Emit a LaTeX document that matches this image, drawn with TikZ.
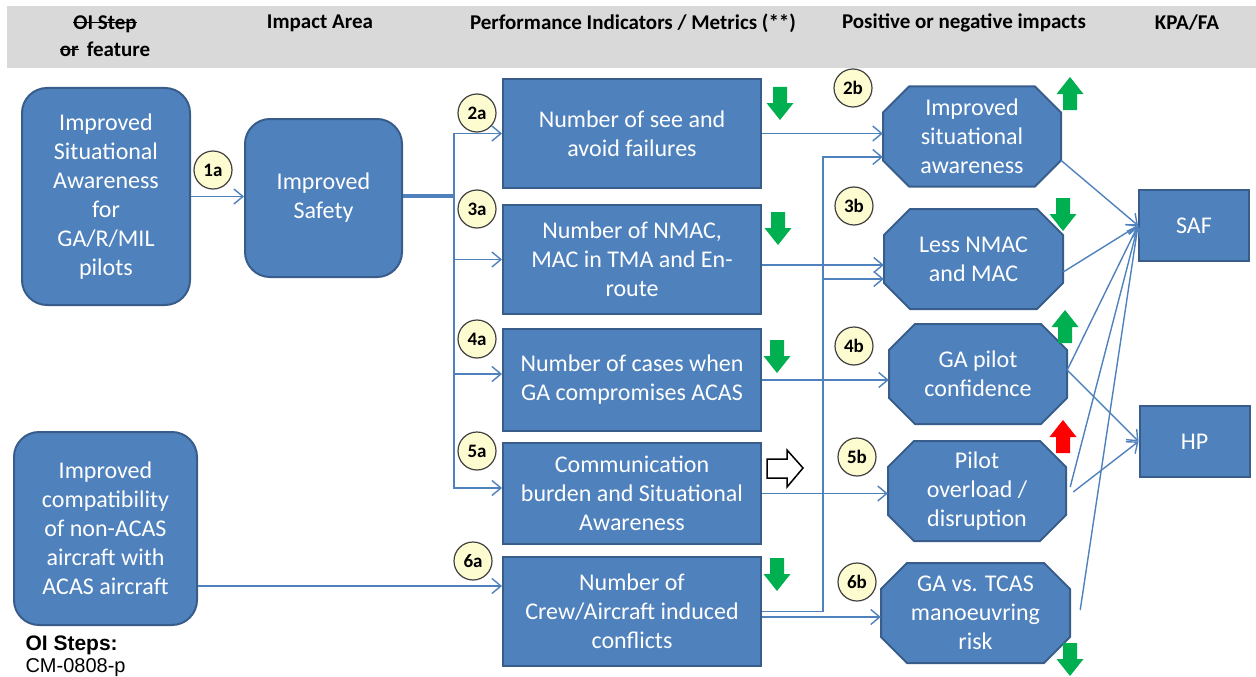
\documentclass[tikz,border=0pt]{standalone}
\usepackage{fontspec}
\setmainfont{Carlito}
\newfontfamily\arialfont{Liberation Sans}
\usetikzlibrary{arrows.meta}
\definecolor{boxblue}{HTML}{4F81BD}
\definecolor{boxedge}{HTML}{385D8A}
\definecolor{linkblue}{HTML}{4F81BD}
\definecolor{tagyellow}{HTML}{FDFBD0}
\definecolor{taggray}{HTML}{404040}
\definecolor{headgray}{HTML}{D9D9D9}
\definecolor{arrgreen}{HTML}{00B050}
\newcommand{\strk}[1]{\setbox0\hbox{#1}\rlap{\rule[0.3em]{\wd0}{1.2pt}}\box0}
\tikzset{feature/.style={rectangle, rounded corners=25pt, fill=boxblue, draw=boxedge, line width=2pt,
  text=white, align=center, font=\fontsize{24}{29}\selectfont}}
\tikzset{metric/.style={rectangle, fill=boxblue, draw=boxedge, line width=2pt, minimum width=258pt,
  text=white, align=center, font=\fontsize{24}{29}\selectfont}}
\tikzset{impact/.style={rectangle, inner sep=0pt, text=white, align=center, font=\fontsize{24}{29}\selectfont}}
\tikzset{octo/.style={fill=boxblue, draw=boxedge, line width=2pt, line join=round}}
\tikzset{kpa/.style={rectangle, fill=boxblue, draw=boxedge, line width=2pt, minimum width=110pt,
  minimum height=71pt, text=white, font=\fontsize{24}{28}\selectfont}}
\tikzset{numtag/.style={circle, fill=tagyellow, draw=taggray, line width=1.2pt, minimum size=38pt,
  inner sep=0pt, font=\bfseries\fontsize{19}{19}\selectfont}}
\tikzset{head/.style={align=center, font=\bfseries\fontsize{21}{27}\selectfont}}
\tikzset{link/.style={draw=linkblue, line width=1.4pt, ->}}
% octagon behind a named node: name, x, y, half width, text
\newcommand{\impactbox}[5]{%
  \draw[octo] (#2-#4+26,#3-50) -- (#2+#4-26,#3-50) -- (#2+#4,#3-24) -- (#2+#4,#3+24)
    -- (#2+#4-26,#3+50) -- (#2-#4+26,#3+50) -- (#2-#4,#3+24) -- (#2-#4,#3-24) -- cycle;
  \node[impact, minimum width=2*#4, minimum height=100pt] (#1) at (#2,#3) {#5};}
% block arrows: colour, x, top (down) or bottom (up)
\newcommand{\arrdown}[3]{\fill[#1] (#2-7,#3) -- (#2+7,#3) -- (#2+7,#3+16) -- (#2+13.5,#3+16)
  -- (#2,#3+33) -- (#2-13.5,#3+16) -- (#2-7,#3+16) -- cycle;}
\newcommand{\arrup}[3]{\fill[#1] (#2-7,#3) -- (#2+7,#3) -- (#2+7,#3-16) -- (#2+13.5,#3-16)
  -- (#2,#3-33) -- (#2-13.5,#3-16) -- (#2-7,#3-16) -- cycle;}
\begin{document}
\begin{tikzpicture}[x=1pt,y=-1pt,>={Straight Barb[length=9pt,width=15pt]}]
    \useasboundingbox (0,0) rectangle (1256,677);
    \fill[headgray] (7,6) rectangle (1256,68);
    \node[head] (h1) at (105,36) {\strk{OI Step}\\\strk{or}\ \,feature};
    \node[head] (h2) at (320,23) {Impact Area};
    \node[head] (h3) at (633,23) {Performance Indicators / Metrics (**)};
    \node[head] (h4) at (964,23) {Positive or negative impacts};
    \node[head] (h5) at (1187,23) {KPA/FA};

    % features and impact area
    \node[feature, minimum width=168pt, minimum height=217pt] (left1) at (106,196.5)
      {Improved\\Situational\\Awareness\\for\\GA/R/MIL\\pilots};
    \node[feature, minimum width=157pt, minimum height=158pt] (safety) at (323.5,198) {Improved\\Safety};
    \node[feature, minimum width=183pt, minimum height=193pt] (left2) at (105.5,528.5)
      {Improved\\compatibility\\of non-ACAS\\aircraft with\\ACAS aircraft};
    \node[anchor=west, font=\arialfont\bfseries\fontsize{21}{21}\selectfont] (oi) at (22,645) {OI Steps:};
    \node[anchor=west, font=\arialfont\fontsize{20}{20}\selectfont] (cm) at (22,668) {CM-0808-p};

    % metrics
    \node[metric, minimum height=109pt] (m2) at (632,133.5) {Number of see and\\avoid failures};
    \node[metric, minimum height=109pt] (m3) at (632,259.5) {Number of NMAC,\\MAC in TMA and En-\\route};
    \node[metric, minimum height=102pt] (m4) at (632,380) {Number of cases when\\GA compromises ACAS};
    \node[metric, minimum height=101pt] (m5) at (632,493.5) {Communication\\burden and Situational\\Awareness};
    \node[metric, minimum height=109pt] (m6) at (632,611.5) {Number of\\Crew/Aircraft induced\\conflicts};

    % impacts
    \impactbox{b2}{972}{136.5}{89}{Improved\\situational\\awareness}
    \impactbox{b3}{973.5}{259}{89.5}{Less NMAC\\and MAC}
    \impactbox{b4}{978}{374}{89}{GA pilot\\confidence}
    \impactbox{b5}{977}{491}{89}{Pilot\\overload /\\disruption}
    \impactbox{b6}{975.5}{613}{94.5}{GA vs. TCAS\\manoeuvring\\risk}

    \node[kpa] (saf) at (1194,225.5) {SAF};
    \node[kpa] (hp) at (1194.5,441.5) {HP};

    % connectors
    \draw[link] (left1.east) -- (left1.east -| safety.west);
    \draw[link] ([yshift=3pt]safety.east) -- ++(51,0) |- (m2.west);
    \draw[link] ([yshift=3pt]safety.east) -- ++(51,0) |- (m3.west);
    \draw[link] ([yshift=1pt]safety.east) -- ++(51,0) |- ([yshift=6pt]m4.west);
    \draw[link] ([yshift=1pt]safety.east) -- ++(51,0) |- ([yshift=5.5pt]m5.west);
    \draw[link] ([yshift=-57.5pt]left2.east) -- ([yshift=25.5pt]m6.west);
    \draw[link] (m2.east) -- (m2.east -| b2.west);
    \draw[link] ([yshift=-5.5pt]m3.east) -- ([yshift=-5.5pt]m3.east -| b3.west);
    \draw[link] (m4.east) -- (m4.east -| b4.west);
    \draw[link] (m5.east) -- (m5.east -| b5.west);
    \draw[link] ([yshift=-5.5pt]m6.east) -- ([yshift=-5.5pt]m6.east -| b6.west);
    \draw[link] (m6.east) -- ++(61,0) |- ([yshift=-20.5pt]b2.west);
    \draw[link] (m6.east) -- ++(61,0) |- ([yshift=-20pt]b3.west);
    \draw[link] ([yshift=-24pt]b2.east) -- (saf.west);
    \draw[link] ([yshift=-13pt]b3.east) -- (saf.west);
    \draw[link] ([yshift=4pt]b4.east) -- (saf.west);
    \draw[link] ([yshift=4pt]b4.east) -- (hp.west);
    \draw[link] ([xshift=4pt,yshift=4pt]b5.east) -- (saf.west);
    \draw[link] ([xshift=7pt,yshift=-1pt]b5.east) -- (hp.west);
    \draw[link] ([xshift=10pt,yshift=3pt]b6.east) -- (saf.west);

    % numbers
    \node[numtag] (t1a) at (213,170) {1a};
    \node[numtag] (t2a) at (477,113) {2a};
    \node[numtag] (t3a) at (477,209) {3a};
    \node[numtag] (t4a) at (477,339) {4a};
    \node[numtag] (t5a) at (477,451) {5a};
    \node[numtag] (t6a) at (473,561) {6a};
    \node[numtag] (t2b) at (853,88) {2b};
    \node[numtag] (t3b) at (854,206) {3b};
    \node[numtag] (t4b) at (854,346) {4b};
    \node[numtag] (t5b) at (857,457) {5b};
    \node[numtag] (t6b) at (857,582) {6b};

    % trend arrows
    \arrdown{arrgreen}{780}{87}
    \arrdown{arrgreen}{778}{212}
    \arrdown{arrgreen}{777}{340}
    \arrdown{arrgreen}{777}{558}
    \arrdown{arrgreen}{1063}{198}
    \arrdown{arrgreen}{1070}{643}
    \arrup{arrgreen}{1070}{110}
    \arrup{arrgreen}{1065}{343}
    \arrup{red}{1063}{453}
    \draw[black, fill=white, line width=1.5pt] (767,459) -- (787,459) -- (787,450) -- (803,468)
      -- (787,487) -- (787,478) -- (767,478) -- cycle;
\end{tikzpicture}
\end{document}
